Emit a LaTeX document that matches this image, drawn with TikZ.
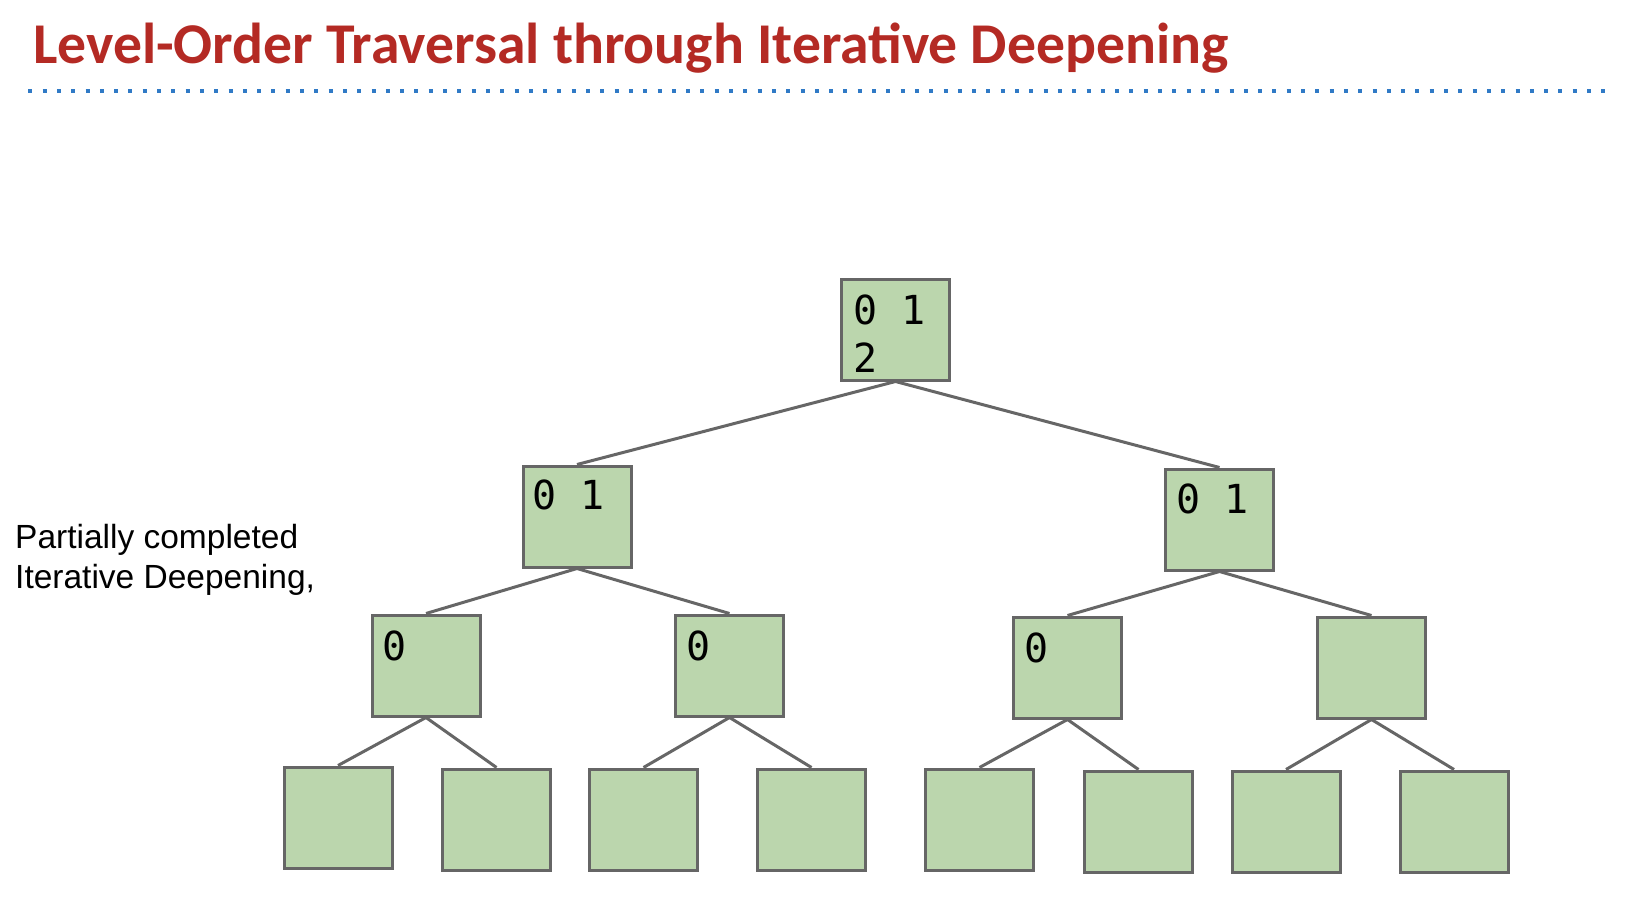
\documentclass[tikz,border=0pt]{standalone}
\usepackage{fontspec}
\setmainfont{Liberation Sans}
\newfontfamily\titlefont{Carlito}
\newfontfamily\codefont{DejaVu Sans Mono}
\definecolor{titlered}{RGB}{180,42,36}
\definecolor{dotblue}{RGB}{48,122,198}
\definecolor{boxfill}{RGB}{187,214,173}
\definecolor{boxline}{RGB}{102,102,102}
\begin{document}
\begin{tikzpicture}[x=1pt,y=-1pt,
  treebox/.style={draw=boxline,fill=boxfill,line width=3pt,minimum width=108pt,minimum height=101pt,inner sep=0pt},
  edge/.style={draw=boxline,line width=3pt},
  code/.style={anchor=base west,inner sep=0pt,font=\codefont\fontsize{40}{48}\selectfont},
  ]
\useasboundingbox (0,0) rectangle (1628,904);
\node[anchor=base west,inner sep=0pt,text=titlered,font=\titlefont\bfseries\fontsize{57.7}{60}\selectfont] (title) at (33,64) {Level-Order Traversal through Iterative Deepening};
\coordinate (d1) at (28.3,91.3);
\coordinate (d2) at (1610,91.3);
\draw[dotblue,line width=4pt,dash pattern=on 4pt off 10.3pt] (d1) -- (d2);
\node[anchor=base west,inner sep=0pt,align=left,font=\fontsize{33.5}{39.5}\selectfont] (note) at (15,588) {Partially completed\\Iterative Deepening,};
% boxes
\node[treebox] (r) at (895.5,329.5) {};
\node[treebox] (l) at (577,516.5) {};
\node[treebox] (rr) at (1219.5,519.5) {};
\node[treebox] (ll) at (426,665.5) {};
\node[treebox] (lr) at (729.5,665.5) {};
\node[treebox] (rl) at (1067.5,667.5) {};
\node[treebox] (rrr) at (1371.5,667.5) {};
\node[treebox] (a1) at (338,817.5) {};
\node[treebox] (a2) at (496.5,819.5) {};
\node[treebox] (a3) at (643.5,819.5) {};
\node[treebox] (a4) at (811.5,819.5) {};
\node[treebox] (a5) at (979.5,819.5) {};
\node[treebox] (a6) at (1138.5,821.5) {};
\node[treebox] (a7) at (1286,821.5) {};
\node[treebox] (a8) at (1454,821.5) {};
% edges
\draw[edge] (r.south) -- (l.north);
\draw[edge] (r.south) -- (rr.north);
\draw[edge] (l.south) -- (ll.north);
\draw[edge] (l.south) -- (lr.north);
\draw[edge] (rr.south) -- (rl.north);
\draw[edge] (rr.south) -- (rrr.north);
\draw[edge] (ll.south) -- (a1.north);
\draw[edge] (ll.south) -- (a2.north);
\draw[edge] (lr.south) -- (a3.north);
\draw[edge] (lr.south) -- (a4.north);
\draw[edge] (rl.south) -- (a5.north);
\draw[edge] (rl.south) -- (a6.north);
\draw[edge] (rrr.south) -- (a7.north);
\draw[edge] (rrr.south) -- (a8.north);
% labels
\node[code,align=left] (tr) at (853,372) {0 1\\2};
\node[code] (tl) at (532,509) {0 1};
\node[code] (trr) at (1176,513) {0 1};
\node[code] (tll) at (382,660) {0};
\node[code] (tlr) at (686,660) {0};
\node[code] (trl) at (1024,662) {0};
\end{tikzpicture}
\end{document}
